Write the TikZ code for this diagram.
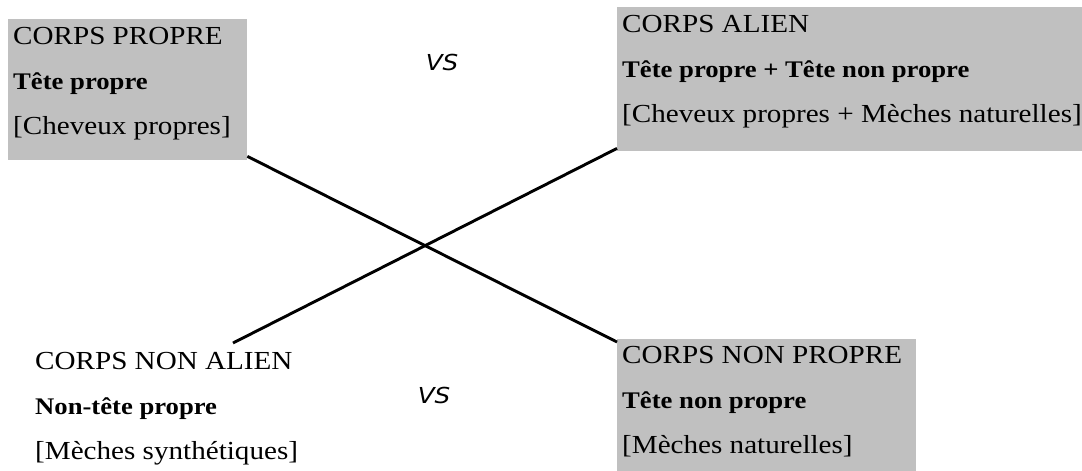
\documentclass[tikz,border=0pt]{standalone}
\usepackage{fontspec}
\setmainfont{Liberation Serif}[FakeStretch=1.12]
\newfontfamily\vsfont{DejaVu Sans}[FakeStretch=1.12]
\usepackage{xcolor}
\usepackage{tikz}
\usetikzlibrary{positioning}
\definecolor{gris}{HTML}{C0C0C0}
\newcommand\gras[1]{{\fontsize{23.8}{45}\selectfont\bfseries #1}}
\tikzset{
  cadre/.style = {fill=gris, draw=none, anchor=north west, inner sep=0pt},% boite grise
  texte/.style = {align=left, anchor=north west, inner sep=0pt, font=\fontsize{26}{45}\selectfont},
  versus/.style = {inner sep=0pt, font=\vsfont\itshape\fontsize{22}{26}\selectfont},
  trait/.style = {line width=2.9pt, black}
}
\begin{document}
\begin{tikzpicture}[x=1pt, y=-1pt]
\useasboundingbox (0,0) rectangle (1082,471);
\node [cadre, minimum width=239pt, minimum height=141pt] (propre) at (8,19) {};
\node [cadre, minimum width=465pt, minimum height=144pt] (alien) at (617,7) {};
\node [cadre, minimum width=299pt, minimum height=132pt] (nonpropre) at (617,339) {};

\node [texte] (t_propre) at ([xshift=5pt, yshift=-8pt]propre.north west)
	{CORPS PROPRE\\ \gras{Tête propre}\\ {[Cheveux propres]}};
\node [texte] (t_alien) at ([xshift=5pt, yshift=-8pt]alien.north west)
	{CORPS ALIEN\\ \gras{Tête propre + Tête non propre}\\ {[Cheveux propres + Mèches naturelles]}};
\node [texte] (t_nonpropre) at ([xshift=5pt, yshift=-7pt]nonpropre.north west)
	{CORPS NON PROPRE\\ \gras{Tête non propre}\\ {[Mèches naturelles]}};
\node [texte] (t_nonalien) at (35,352)
	{CORPS NON ALIEN\\ \gras{Non-tête propre}\\ {[Mèches synthétiques]}};

\node [versus] (vs_haut) at (442,62) {VS};
\node [versus] (vs_bas) at (434,395) {VS};

\coordinate (bout) at (233,343);
\draw [trait] ([yshift=4pt]propre.south east) -- ([yshift=-3pt]nonpropre.north west);
\draw [trait] ([yshift=3pt]alien.south west) -- (bout);
\end{tikzpicture}
\end{document}
